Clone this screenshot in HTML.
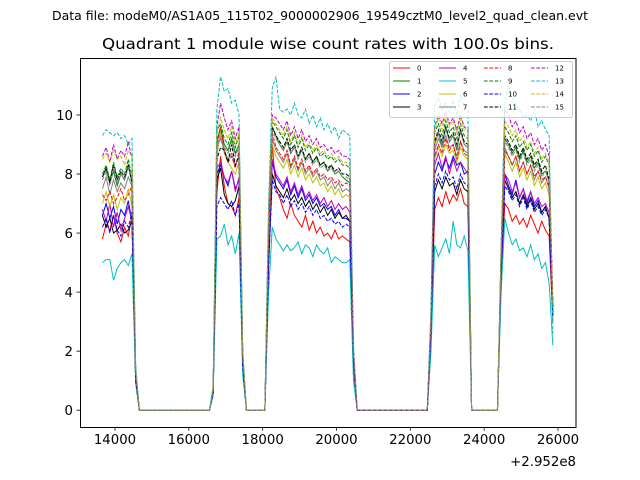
<!DOCTYPE html>
<html><head><meta charset="utf-8">
<style>
html,body{margin:0;padding:0;background:#fff;}
svg{display:block;font-family:"DejaVu Sans","Liberation Sans",sans-serif;}
</style></head>
<body>
<svg id="chart" width="640" height="480" viewBox="0 0 640 480" xmlns="http://www.w3.org/2000/svg">
<rect x="0" y="0" width="640" height="480" fill="#fff"/>
<text x="320" y="20" font-size="12" text-anchor="middle" textLength="536" lengthAdjust="spacingAndGlyphs">Data file: modeM0/AS1A05_115T02_9000002906_19549cztM0_level2_quad_clean.evt</text>
<text x="328" y="49" font-size="15.5" text-anchor="middle" textLength="452" lengthAdjust="spacingAndGlyphs">Quadrant 1 module wise count rates with 100.0s bins.</text>
<g id="plot"></g>
<rect x="80.5" y="58.5" width="495.5" height="369" fill="none" stroke="#000" stroke-width="1"/>
<g id="axes"></g>
<text x="576" y="466" font-size="13.3" text-anchor="end">+2.952e8</text>
<g id="legend"></g>
</svg>
<script>
const binStart = 13660;
const binWidth = 100;
const nBins = 123;
const colors = ['#ff0000','#008000','#0000ff','#000000','#bf00bf','#00bfbf','#bfbf00','#808080','#ff0000','#008000','#0000ff','#000000','#bf00bf','#00bfbf','#bfbf00','#808080'];
const xTicks = [14000,16000,18000,20000,22000,24000,26000];
const yTicks = [0,2,4,6,8,10];
const labels = ['0','1','2','3','4','5','6','7','8','9','10','11','12','13','14','15'];

const s0 = [5.8,6.3,6.1,6.6,6.0,5.7,6.2,5.9,6.6, 1.0, 0,0,0,0,0,0,0,0,0,0,0,0,0,0,0,0,0,0,0,0, 0.6, 7.4,8.6,7.6,7.0,6.9,6.6,7.2, 1.5, 0,0,0,0,0,0, 5.0, 9.0,7.5,7.2,6.8,6.5,7.0,6.6,6.4,6.2,6.6,6.1,6.4,6.0,6.2,5.9,6.0,5.8,6.1,5.8,5.9,5.8,5.7, 1.5, 0,0,0,0,0,0,0,0,0,0,0,0,0,0,0,0,0,0,0,0, 2.5, 6.8,7.2,6.9,7.4,7.0,7.3,7.1,7.5,7.0,6.9, 0,0,0,0,0,0,0,0, 4.5, 7.0,6.8,6.4,6.6,6.3,6.5,6.2,6.6,6.3,6.0,6.4,6.1,5.9,3.0];
const s1 = [7.9,8.2,7.7,8.1,7.6,8.0,7.8,8.3,7.7, 1.3, 0,0,0,0,0,0,0,0,0,0,0,0,0,0,0,0,0,0,0,0, 0.7, 9.1,9.6,9.0,8.8,9.2,8.7,9.0, 1.8, 0,0,0,0,0,0, 6.0, 9.6,9.3,9.0,8.8,9.1,8.7,8.9,8.6,8.8,8.5,8.7,8.4,8.6,8.3,8.4,8.1,8.3,8.0,8.1,7.9,7.8,7.7, 1.9, 0,0,0,0,0,0,0,0,0,0,0,0,0,0,0,0,0,0,0,0, 3.0, 9.0,9.4,8.9,9.6,9.1,9.3,8.8,9.5,9.0,8.9, 0,0,0,0,0,0,0,0, 5.2, 9.2,9.0,8.7,8.9,8.5,8.8,8.4,8.6,8.2,8.4,8.0,8.1,7.8,3.5];
const s2 = [6.6,7.0,6.5,6.9,6.3,6.8,6.6,7.1,6.4, 1.1, 0,0,0,0,0,0,0,0,0,0,0,0,0,0,0,0,0,0,0,0, 0.6, 8.0,8.3,7.9,7.6,8.1,7.5,7.8, 1.6, 0,0,0,0,0,0, 5.3, 8.4,7.9,7.7,7.5,7.8,7.3,7.6,7.2,7.5,7.1,7.3,7.0,7.2,6.9,7.0,6.8,6.9,6.6,6.8,6.5,6.5,6.4, 1.7, 0,0,0,0,0,0,0,0,0,0,0,0,0,0,0,0,0,0,0,0, 2.7, 8.0,8.4,8.1,8.5,8.2,8.6,8.3,8.4,8.0,8.1, 0,0,0,0,0,0,0,0, 4.8, 8.0,7.6,7.3,7.8,7.2,7.5,7.0,7.4,6.9,7.1,6.7,6.9,6.5,3.2];
const s3 = [6.6,6.2,6.5,6.0,6.1,6.3,6.0,6.1,6.4, 1.0, 0,0,0,0,0,0,0,0,0,0,0,0,0,0,0,0,0,0,0,0, 0.6, 7.8,8.2,7.3,7.0,6.9,7.1,7.6, 1.5, 0,0,0,0,0,0, 5.0, 8.0,7.6,7.4,7.2,7.5,7.1,7.3,7.0,7.2,6.9,7.1,6.8,7.0,6.7,6.9,6.6,6.8,6.5,6.7,6.5,6.6,6.4, 1.6, 0,0,0,0,0,0,0,0,0,0,0,0,0,0,0,0,0,0,0,0, 2.6, 7.4,7.8,7.5,7.9,7.6,7.7,7.3,7.8,7.5,7.4, 0,0,0,0,0,0,0,0, 4.7, 7.8,7.5,7.2,7.4,7.0,7.3,6.9,7.2,6.8,7.0,6.7,6.9,6.5,3.3];
const s4 = [6.8,6.4,7.0,6.2,6.7,6.1,6.5,6.9,6.4, 1.1, 0,0,0,0,0,0,0,0,0,0,0,0,0,0,0,0,0,0,0,0, 0.6, 8.2,8.4,7.9,7.7,8.1,7.4,7.9, 1.6, 0,0,0,0,0,0, 5.4, 8.5,8.0,7.8,7.6,7.9,7.4,7.7,7.3,7.6,7.2,7.4,7.1,7.3,7.0,7.2,6.9,7.1,6.8,7.0,6.8,6.9,6.7, 1.7, 0,0,0,0,0,0,0,0,0,0,0,0,0,0,0,0,0,0,0,0, 2.8, 8.3,8.7,8.2,8.6,8.0,8.5,8.1,8.4,8.2,8.0, 0,0,0,0,0,0,0,0, 4.9, 8.0,7.8,7.4,7.7,7.2,7.5,7.1,7.4,7.0,7.2,6.9,7.0,6.7,3.4];
const s5 = [5.0,5.1,5.1,4.4,4.8,5.0,5.1,4.9,5.3, 0.9, 0,0,0,0,0,0,0,0,0,0,0,0,0,0,0,0,0,0,0,0, 0.5, 5.8,5.9,6.3,5.6,5.9,5.3,6.0, 1.2, 0,0,0,0,0,0, 4.0, 6.2,5.8,5.6,5.4,5.6,5.4,5.5,5.7,5.3,5.6,5.5,5.2,5.6,5.4,5.3,5.5,5.0,5.2,5.1,5.0,5.0,5.1, 1.0, 0,0,0,0,0,0,0,0,0,0,0,0,0,0,0,0,0,0,0,0, 2.0, 5.6,5.2,5.5,5.8,5.3,6.4,5.6,5.5,5.9,5.4, 0,0,0,0,0,0,0,0, 4.0, 6.5,6.0,5.6,5.8,5.4,5.5,5.2,5.6,5.1,5.3,4.8,5.0,4.3,2.2];
const s6 = [7.0,7.4,6.9,7.3,6.8,7.2,7.0,7.5,6.9, 1.2, 0,0,0,0,0,0,0,0,0,0,0,0,0,0,0,0,0,0,0,0, 0.7, 8.6,9.5,8.7,8.4,8.2,8.0,8.4, 1.7, 0,0,0,0,0,0, 5.8, 9.0,8.6,8.4,8.2,8.5,8.0,8.3,7.9,8.2,7.8,8.0,7.7,7.9,7.6,7.7,7.4,7.6,7.3,7.5,7.2,7.3,7.2, 1.8, 0,0,0,0,0,0,0,0,0,0,0,0,0,0,0,0,0,0,0,0, 2.9, 8.5,8.9,8.6,9.0,8.7,8.8,8.4,8.9,8.6,8.5, 0,0,0,0,0,0,0,0, 5.0, 8.7,8.4,8.1,8.4,7.9,8.2,7.8,8.1,7.6,7.9,7.5,7.7,7.3,3.4];
const s7 = [7.5,7.9,7.3,7.8,7.4,7.7,7.5,7.9,7.6, 1.2, 0,0,0,0,0,0,0,0,0,0,0,0,0,0,0,0,0,0,0,0, 0.7, 8.9,9.2,8.8,8.5,8.7,8.3,8.6, 1.8, 0,0,0,0,0,0, 6.0, 9.2,8.8,8.6,8.4,8.7,8.2,8.5,8.1,8.4,8.0,8.2,7.9,8.1,7.8,7.9,7.6,7.8,7.5,7.7,7.4,7.5,7.4, 1.9, 0,0,0,0,0,0,0,0,0,0,0,0,0,0,0,0,0,0,0,0, 3.0, 8.8,9.2,8.9,9.3,8.9,9.0,8.6,9.1,8.8,8.7, 0,0,0,0,0,0,0,0, 5.1, 8.9,8.6,8.3,8.6,8.1,8.4,8.0,8.3,7.8,8.1,7.7,7.9,7.5,3.5];
const s8 = [7.3,7.1,7.4,7.0,7.2,7.5,7.1,7.3,7.6, 1.2, 0,0,0,0,0,0,0,0,0,0,0,0,0,0,0,0,0,0,0,0, 0.7, 9.0,9.6,8.8,8.4,8.6,8.2,8.8, 1.8, 0,0,0,0,0,0, 6.0, 9.4,8.9,8.7,8.5,8.8,8.3,8.6,8.2,8.5,8.1,8.3,8.0,8.2,7.9,8.0,7.8,7.9,7.7,7.8,7.6,7.7,7.6, 1.9, 0,0,0,0,0,0,0,0,0,0,0,0,0,0,0,0,0,0,0,0, 3.0, 8.6,9.0,8.7,9.2,8.8,9.0,8.5,9.1,8.7,8.6, 0,0,0,0,0,0,0,0, 5.1, 8.8,8.6,8.3,8.6,8.1,8.4,8.0,8.3,7.9,8.1,7.8,7.9,7.6,3.5];
const s9 = [8.0,8.3,7.8,8.4,7.9,8.2,8.0,8.5,7.9, 1.3, 0,0,0,0,0,0,0,0,0,0,0,0,0,0,0,0,0,0,0,0, 0.8, 9.5,9.7,9.2,9.0,9.4,8.9,9.3, 1.9, 0,0,0,0,0,0, 6.5, 9.8,9.6,9.4,9.2,9.5,9.0,9.3,8.9,9.2,8.8,9.0,8.7,8.9,8.6,8.7,8.5,8.6,8.4,8.5,8.3,8.3,8.2, 2.0, 0,0,0,0,0,0,0,0,0,0,0,0,0,0,0,0,0,0,0,0, 3.1, 9.4,9.7,9.3,9.8,9.4,9.6,9.2,9.7,9.3,9.2, 0,0,0,0,0,0,0,0, 5.4, 9.6,9.4,9.1,9.3,8.9,9.1,8.8,9.0,8.6,8.8,8.4,8.6,8.3,3.6];
const s10 = [6.2,6.5,6.0,6.6,6.1,5.9,6.4,6.2,6.7, 1.0, 0,0,0,0,0,0,0,0,0,0,0,0,0,0,0,0,0,0,0,0, 0.6, 6.9,7.2,7.0,6.8,7.1,6.6,7.0, 1.5, 0,0,0,0,0,0, 4.8, 7.8,7.4,7.3,7.0,7.3,6.9,7.1,6.8,7.0,6.7,6.9,6.6,6.8,6.5,6.6,6.4,6.5,6.3,6.4,6.2,6.3,6.2, 1.6, 0,0,0,0,0,0,0,0,0,0,0,0,0,0,0,0,0,0,0,0, 2.6, 7.6,8.0,7.7,8.1,7.8,7.9,7.5,8.0,7.7,7.6, 0,0,0,0,0,0,0,0, 4.6, 7.6,7.4,7.1,7.3,6.9,7.2,6.8,7.1,6.7,6.9,6.6,6.8,6.5,3.2];
const s11 = [7.9,8.2,7.7,8.3,7.8,8.1,7.9,8.3,7.7, 1.3, 0,0,0,0,0,0,0,0,0,0,0,0,0,0,0,0,0,0,0,0, 0.7, 8.5,8.9,8.8,8.4,9.0,8.3,8.6, 1.8, 0,0,0,0,0,0, 6.3, 9.6,9.3,9.1,8.9,9.2,8.8,9.0,8.6,8.9,8.5,8.7,8.4,8.6,8.3,8.4,8.2,8.3,8.1,8.2,8.0,8.0,7.9, 1.9, 0,0,0,0,0,0,0,0,0,0,0,0,0,0,0,0,0,0,0,0, 3.0, 9.1,9.5,9.1,9.6,9.2,9.4,9.0,9.5,9.1,9.0, 0,0,0,0,0,0,0,0, 5.3, 9.3,9.1,8.8,9.0,8.6,8.9,8.5,8.7,8.3,8.5,8.1,8.3,7.8,3.5];
const s12 = [8.6,8.9,8.4,9.0,8.5,8.8,8.6,9.1,8.5, 1.4, 0,0,0,0,0,0,0,0,0,0,0,0,0,0,0,0,0,0,0,0, 0.8, 9.6,10.4,9.9,9.5,9.8,9.2,9.6, 2.0, 0,0,0,0,0,0, 6.8, 10.0,9.9,9.7,9.5,9.8,9.3,9.6,9.2,9.5,9.1,9.3,9.0,9.2,8.9,9.0,8.8,8.9,8.7,8.8,8.6,8.6,8.5, 2.1, 0,0,0,0,0,0,0,0,0,0,0,0,0,0,0,0,0,0,0,0, 3.2, 9.6,10.0,9.7,10.1,9.7,9.9,9.5,10.0,9.6,9.5, 0,0,0,0,0,0,0,0, 5.6, 10.2,10.0,9.6,9.8,9.4,9.6,9.2,9.4,9.0,9.2,8.8,9.0,8.6,3.7];
const s13 = [9.3,9.5,9.4,9.3,9.4,9.2,9.3,9.0,9.2, 1.5, 0,0,0,0,0,0,0,0,0,0,0,0,0,0,0,0,0,0,0,0, 0.8, 10.2,11.3,10.8,10.9,10.4,10.5,10.0, 2.0, 0,0,0,0,0,0, 7.0, 10.9,11.3,10.2,10.1,10.2,10.0,10.4,10.0,9.9,10.2,9.7,10.0,9.6,9.9,9.5,9.7,9.4,9.6,9.2,9.5,9.4,9.3, 2.2, 0,0,0,0,0,0,0,0,0,0,0,0,0,0,0,0,0,0,0,0, 3.5, 10.3,10.6,10.2,10.4,10.1,10.5,10.0,10.7,10.3,10.2, 0,0,0,0,0,0,0,0, 5.5, 10.5,11.0,10.6,10.3,10.2,9.9,10.0,9.8,10.2,9.6,9.8,9.5,9.3,2.6];
const s14 = [8.5,8.7,8.4,8.8,8.5,8.6,8.3,8.8,8.6, 1.4, 0,0,0,0,0,0,0,0,0,0,0,0,0,0,0,0,0,0,0,0, 0.8, 9.4,9.9,9.5,9.2,9.6,9.0,9.4, 2.0, 0,0,0,0,0,0, 6.7, 9.9,9.7,9.5,9.3,9.6,9.1,9.4,9.0,9.3,8.9,9.1,8.8,9.0,8.7,8.8,8.6,8.7,8.5,8.6,8.4,8.4,8.3, 2.1, 0,0,0,0,0,0,0,0,0,0,0,0,0,0,0,0,0,0,0,0, 3.2, 9.5,9.9,9.5,10.0,9.6,9.8,9.4,9.9,9.5,9.4, 0,0,0,0,0,0,0,0, 5.5, 9.8,9.6,9.3,9.5,9.1,9.3,8.9,9.1,8.7,8.9,8.5,8.7,8.3,3.6];
const s15 = [7.8,8.1,7.6,8.2,7.7,8.0,7.8,8.2,7.9, 1.3, 0,0,0,0,0,0,0,0,0,0,0,0,0,0,0,0,0,0,0,0, 0.7, 9.0,9.3,8.9,8.7,9.1,8.6,8.9, 1.9, 0,0,0,0,0,0, 6.3, 9.5,9.2,9.0,8.8,9.1,8.7,8.9,8.5,8.8,8.4,8.6,8.3,8.5,8.2,8.3,8.1,8.2,8.0,8.1,7.9,7.9,7.8, 1.9, 0,0,0,0,0,0,0,0,0,0,0,0,0,0,0,0,0,0,0,0, 3.0, 9.0,9.4,9.0,9.5,9.1,9.3,8.9,9.4,9.0,8.9, 0,0,0,0,0,0,0,0, 5.2, 9.1,8.9,8.6,8.8,8.4,8.7,8.3,8.5,8.1,8.3,7.9,8.1,7.7,3.5];

const series = [s0,s1,s2,s3,s4,s5,s6,s7,s8,s9,s10,s11,s12,s13,s14,s15];
const times = [];
for (let i = 0; i < nBins; i++) times.push(binStart + i * binWidth);

const NS = 'http://www.w3.org/2000/svg';
const X0 = 80, X1 = 576, Y0 = 427.2, Y1 = 58;
const xMin = 13052, xMax = 26488, yMin = -0.576, yMax = 11.93;
function sx(v){ return X0 + (v - xMin) / (xMax - xMin) * (X1 - X0); }
function sy(v){ return Y0 - (v - yMin) / (yMax - yMin) * (Y0 - Y1); }
function mk(tag, attrs){ const e = document.createElementNS(NS, tag); for (const k in attrs) e.setAttribute(k, attrs[k]); return e; }

const plot = document.getElementById('plot');
series.forEach((vals, si) => {
  let d = '';
  vals.forEach((v, i) => { d += (i ? 'L' : 'M') + sx(times[i]).toFixed(2) + ' ' + sy(v).toFixed(2); });
  const p = mk('path', {d: d, fill: 'none', stroke: colors[si], 'stroke-width': 1});
  if (si >= 8) p.setAttribute('stroke-dasharray', '3.7 1.6');
  
  
  plot.appendChild(p);
});

const axes = document.getElementById('axes');
xTicks.forEach(t => {
  const x = sx(t);
  const l = mk('line', {x1: x, x2: x, y1: Y0, y2: Y0 + 3.5, stroke: '#000', 'stroke-width': 0.8});
  
  
  axes.appendChild(l);
  const tx = mk('text', {x: x, y: Y0 + 17, 'font-size': 13.3, 'text-anchor': 'middle'});
  tx.textContent = t;
  
  
  axes.appendChild(tx);
});
yTicks.forEach(t => {
  const y = sy(t);
  const l = mk('line', {x1: X0 - 3.5, x2: X0, y1: y, y2: y, stroke: '#000', 'stroke-width': 0.8});
  
  
  axes.appendChild(l);
  const tx = mk('text', {x: X0 - 7, y: y + 4.8, 'font-size': 13.3, 'text-anchor': 'end'});
  tx.textContent = t;
  
  
  axes.appendChild(tx);
});

const leg = document.getElementById('legend');
const frame = mk('rect', {x: 389.5, y: 61.5, width: 183, height: 56, rx: 2, fill: '#fff', 'fill-opacity': 0.8, stroke: '#ccc', 'stroke-width': 1});


leg.appendChild(frame);
const colX = [393, 439, 484, 531];
const rowY = [68, 81, 94, 107];
labels.forEach((lab, i) => {
  const c = Math.floor(i / 4), r = i % 4;
  const g = mk('g', {});
  
  
  const ln = mk('line', {x1: colX[c], x2: colX[c] + 17, y1: rowY[r], y2: rowY[r], stroke: colors[i], 'stroke-width': 1});
  if (i >= 8) ln.setAttribute('stroke-dasharray', '3.7 1.6');
  g.appendChild(ln);
  const tx = mk('text', {x: colX[c] + 24, y: rowY[r] + 2.5, 'font-size': 7});
  tx.textContent = lab;
  g.appendChild(tx);
  leg.appendChild(g);
});
</script>
</body></html>
